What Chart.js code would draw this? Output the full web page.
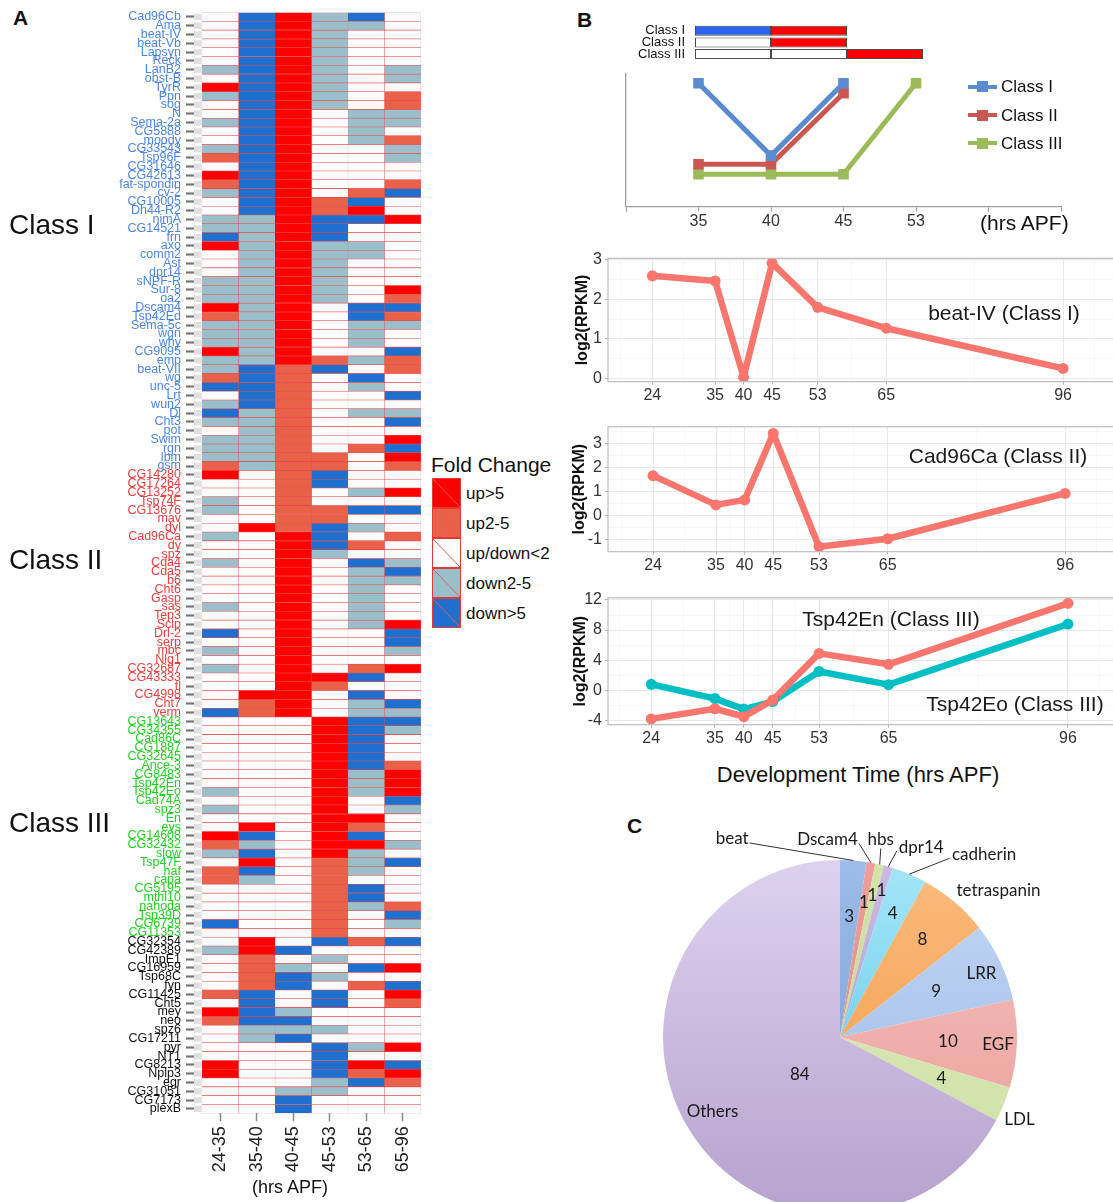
<!DOCTYPE html>
<html lang="en">
<head>
<meta charset="UTF-8">
<title>Fold change heatmap, expression profiles and gene families</title>
<script src="https://cdn.jsdelivr.net/npm/chart.js"></script>
<style>
  html, body { margin: 0; padding: 0; background: #fff; }
  body { width: 1113px; height: 1202px; overflow: hidden; position: relative;
         font-family: 'Liberation Sans', Arial, sans-serif; color: #111; }
  canvas, .txt { position: absolute; }
  .txt { white-space: nowrap; }
  .letter { font-weight: bold; font-size: 21px; line-height: 21px; }
  .classname { font-size: 28px; line-height: 28px; left: 9px; }
  .note { font-size: 21px; line-height: 21px; color: #1a1a1a; transform: translate(-50%, -50%); }
  .fold-box { position: absolute; left: 432px; width: 29px; height: 30px; box-sizing: border-box; border: 1.5px solid #E53935; }
  .fold-label { position: absolute; left: 466px; font-size: 17px; line-height: 17px; }
  .key-line { position: absolute; left: 968px; width: 29px; height: 4px; }
  .key-dot { position: absolute; left: 977px; width: 11px; height: 11px; }
  .key-text { position: absolute; left: 1001px; font-size: 17px; line-height: 17px; }
</style>
</head>
<body>
  <div class="txt letter" style="left:13px;top:7px">A</div>
  <canvas id="heat" width="430" height="1202" style="left:0;top:0"></canvas>
  <div class="txt classname" style="top:211px">Class I</div>
  <div class="txt classname" style="top:546px">Class II</div>
  <div class="txt classname" style="top:809px">Class III</div>
  <div class="txt" style="left:252px;top:1178px;font-size:18px;line-height:18px">(hrs APF)</div>
  <div class="txt" style="left:431px;top:454px;font-size:21px;line-height:21px">Fold Change</div>
  <div id="foldKey"></div>

  <div class="txt letter" style="left:577px;top:9px">B</div>
  <canvas id="scheme" width="310" height="51" style="left:620px;top:17px"></canvas>
  <canvas id="pattern" width="513" height="175" style="left:600px;top:62px"></canvas>
  <div class="txt" style="left:980px;top:212px;font-size:21px;line-height:21px">(hrs APF)</div>
  <div id="patternKey"></div>

  <canvas id="beat" width="560" height="166" style="left:565px;top:244px"></canvas>
  <canvas id="cad" width="560" height="168" style="left:565px;top:412px"></canvas>
  <canvas id="tsp" width="560" height="169" style="left:565px;top:584px"></canvas>
  <div class="txt note" style="left:1004px;top:312px">beat-IV (Class I)</div>
  <div class="txt note" style="left:998px;top:455px">Cad96Ca (Class II)</div>
  <div class="txt note" style="left:891px;top:618px">Tsp42En (Class III)</div>
  <div class="txt note" style="left:1015px;top:703px">Tsp42Eo (Class III)</div>
  <div class="txt" style="left:858px;top:775px;font-size:22px;line-height:22px;transform:translate(-50%,-50%)">Development Time (hrs APF)</div>

  <div class="txt letter" style="left:627px;top:815px">C</div>
  <canvas id="pie" width="460" height="440" style="left:610px;top:817px"></canvas>

<script>
// ---------- panel A: fold change heatmap ----------
const intervals = ['24-35', '35-40', '40-45', '45-53', '53-65', '65-96'];

const classIGenes = ['Cad96Cb', 'Ama', 'beat-IV', 'beat-Vb', 'Lapsyn', 'Reck', 'LanB2', 'obst-B', 'TyrR', 'Ppn',
  'sog', 'N', 'Sema-2a', 'CG5888', 'moody', 'CG33543', 'Tsp96F', 'CG31646', 'CG42613', 'fat-spondin',
  'cv-2', 'CG10005', 'Dh44-R2', 'nimA', 'CG14521', 'frn', 'axo', 'comm2', 'Ast', 'dpr14',
  'sNPF-R', 'Sur-8', 'oa2', 'Dscam4', 'Tsp42Ed', 'Sema-5c', 'wgn', 'why', 'CG9095', 'emp',
  'beat-VII', 'wg', 'unc-5', 'Lrt', 'wun2', 'Dl', 'Cht3', 'pot', 'Swim', 'rgn', 'lbm', 'gsm'];
const classIIGenes = ['CG14280', 'CG17264', 'CG13252', 'Tsp74F', 'CG13676', 'mav', 'dyl', 'Cad96Ca', 'dy', 'spz',
  'Cda4', 'Cda5', 'b6', 'Cht6', 'Gasp', 'sas', 'Tep3', 'Sclp', 'Drl-2', 'serp',
  'mbc', 'Nlg1', 'CG32687', 'CG43333', 'tl', 'CG4998', 'Cht7', 'verm'];
const classIIIGenes = ['CG13643', 'CG34355', 'Cad86C', 'CG1887', 'CG32645', 'Ance-3', 'CG8483', 'Tsp42En', 'Tsp42Eo', 'Cad74A',
  'spz3', 'En', 'eys', 'CG14608', 'CG32432', 'slow', 'Tsp47F', 'haf', 'capa', 'CG5195',
  'mthl10', 'nahoda', 'Tsp39D', 'CG6739', 'CG11353'];
const otherGenes = ['CG32354', 'CG42389', 'ImpE1', 'CG16959', 'Tsp68C', 'fyn', 'CG11425', 'Cht5', 'mey', 'neo',
  'spz6', 'CG17211', 'pyr', 'NT1', 'CG8213', 'Nplp3', 'egr', 'CG31051', 'CG7173', 'plexB'];

// fold change class per gene and interval: 2 up>5, 1 up2-5, 0 up/down<2, -1 down2-5, -2 down>5
const fold2435 = [0, 0, 0, 0, 0, 0, -1, 0, 2, -1,
  0, 0, -1, 0, 0, -1, 1, 0, 2, 1,
  -1, 0, 0, -1, -1, -2, 2, 0, 0, 0,
  -1, -1, -1, 2, 1, -1, -1, -1, 2, -1,
  -1, 1, -2, 0, -1, -2, -1, 0, -1, -1,
  -1, 1, 2, 0, 0, -1, -1, 0, 0, -1,
  0, 0, -1, 0, 0, 0, 0, -1, 0, 0,
  -2, 0, -1, 0, -1, 0, 0, 0, 0, -2,
  0, 0, 0, 0, 0, 0, 0, 0, -1, 0,
  -1, 0, 0, 2, 1, -1, 0, 1, 1, 0,
  0, 0, 0, -2, 0, 0, -1, 0, 0, 0,
  0, 1, 0, 2, 1, 0, 0, 0, 0, 2,
  2, 0, 0, 0, 0];
const fold3540 = [-2, -2, -2, -2, -2, -2, -2, -2, -2, -2,
  -2, -2, -2, -2, -2, -2, -2, -2, -2, -2,
  -2, -2, -2, -1, -1, -1, -1, -1, -1, -1,
  -1, -1, -1, -1, -1, -1, -1, -1, -1, -1,
  -2, -2, -2, -2, -2, -1, -1, -1, -1, -1,
  -1, -1, 0, 0, 0, 0, 0, 0, 2, 0,
  0, 0, 0, 0, 0, 0, 0, 0, 0, 0,
  0, 0, 0, 0, 0, 0, 0, 2, 1, 1,
  0, 0, 0, 0, 0, 0, 0, 0, 0, 0,
  0, 0, 2, -2, -1, -2, 2, -2, -1, 0,
  0, 0, 0, 0, 0, 2, 2, 1, 1, 1,
  1, -2, -2, -2, -2, -1, -1, 0, 0, 0,
  0, 0, 0, 0, 0];
const fold4045 = [2, 2, 2, 2, 2, 2, 2, 2, 2, 2,
  2, 2, 2, 2, 2, 2, 2, 2, 2, 2,
  2, 2, 2, 2, 2, 2, 2, 2, 2, 2,
  2, 2, 2, 2, 2, 2, 2, 2, 2, 2,
  1, 1, 1, 1, 1, 1, 1, 1, 1, 1,
  1, 1, 1, 1, 1, 1, 1, 1, 1, 2,
  2, 2, 2, 2, 2, 2, 2, 2, 2, 2,
  2, 2, 2, 2, 2, 2, 2, 2, 2, 2,
  0, 0, 0, 0, 0, 0, 0, 0, 0, 0,
  0, 0, 0, 0, 0, 0, 0, 0, 0, 0,
  0, 0, 0, 0, 0, 0, -2, 0, -1, -2,
  -2, 0, 0, -1, -2, -1, -2, 0, 0, 0,
  0, 0, -1, -2, -2];
const fold4553 = [-1, -1, -1, -1, -1, -1, -1, -1, -1, -1,
  -1, 0, 0, 0, 0, 0, 0, 0, 0, 0,
  0, 1, 1, -2, -2, -2, -1, -1, -1, -1,
  -1, -1, -1, 0, 0, 0, 0, 0, 0, 1,
  -2, 0, 0, 0, 0, 0, 0, 0, 0, 0,
  1, 1, -2, -2, 0, 0, 1, 1, -2, -2,
  -2, -1, 0, 0, 0, 0, 0, 0, 0, 0,
  0, 0, 0, 0, 0, 2, 1, 0, 0, 0,
  2, 2, 2, 2, 2, 2, 2, 2, 2, 2,
  2, 2, 2, 2, 2, 2, 1, 1, 1, 1,
  1, 1, 1, 1, 1, -2, 0, -1, 0, -1,
  0, -2, -2, 0, 0, -1, 0, -2, -2, -2,
  -2, -1, -1, 0, 0];
const fold5365 = [-2, -1, 0, 0, 0, 0, 0, 0, 0, 0,
  0, -1, -1, -1, -1, 0, 0, 0, 0, 0,
  1, -2, 2, -2, 0, 0, -1, -1, 0, 0,
  0, 0, 0, -2, -2, -1, -1, -1, 0, -1,
  0, -2, -1, 0, 0, -1, 0, 0, 0, 1,
  0, 0, 0, 0, -1, 0, -2, 0, -1, 0,
  1, 0, -2, -1, -1, -1, -1, -1, -1, -1,
  0, 0, 0, 0, 1, -2, 0, -2, -1, -1,
  -2, -2, -2, -2, -2, -2, -1, -1, -1, 0,
  0, 2, 1, -2, 2, -1, -1, -1, 0, -2,
  -2, -1, 0, 0, 0, 1, 0, 0, -2, 0,
  1, 0, 0, 0, 0, 0, 0, -1, 0, 2,
  1, -2, 0, 0, 0];
const fold6596 = [0, 0, 0, 0, 0, 0, -1, -1, 0, 1,
  1, -1, -1, 0, 1, -1, -1, 0, 0, 1,
  -2, 0, 0, 2, 0, 0, 0, 0, 0, 0,
  0, 2, 1, -2, 1, -1, 0, 0, -2, 1,
  1, 0, 0, -2, 0, -1, -2, 0, 2, -2,
  2, 1, 0, 0, 2, 0, -2, 0, 0, 1,
  0, 0, -1, -2, -1, 0, 0, 0, 0, 2,
  -2, -2, -1, 0, 2, 0, 0, 0, -2, -1,
  -2, -1, 0, 0, 0, 1, 2, 2, 2, -2,
  -1, 0, 0, 0, -1, 0, -2, 0, 0, 0,
  0, 1, -2, -1, 0, -2, 0, 0, 2, 0,
  -2, 2, 1, 0, 0, 0, 0, 2, 0, -2,
  2, 1, 0, 0, 0];

const foldLevels = ['up>5', 'up2-5', 'up/down<2', 'down2-5', 'down>5'];
const foldCodes = [2, 1, 0, -1, -2];

// ---------- panel B ----------
const classNames = ['Class I', 'Class II', 'Class III'];
const schemeSegments = [['down', 'up'], ['flat', 'up'], ['flat', 'flat', 'up']];
const classTimes = ['35', '40', '45', '53'];
const patternClassI = [9.25, 3.83, 9.25, null];
const patternClassII = [3.18, 3.18, 8.5, null];
const patternClassIII = [2.43, 2.43, 2.43, 9.25];

const timePoints = [24, 35, 40, 45, 53, 65, 96];
const beatIV = [2.6, 2.47, 0.03, 2.92, 1.8, 1.27, 0.25];
const cad96Ca = [1.68, 0.46, 0.67, 3.44, -1.28, -0.95, 0.94];
const tsp42En = [-3.8, -2.45, -3.5, -1.3, 4.9, 3.45, 11.55];
const tsp42Eo = [0.8, -1.1, -2.5, -1.5, 2.5, 0.75, 8.8];

// ---------- panel C ----------
const pieNames = ['beat', 'Dscam4', 'hbs', 'dpr14', 'cadherin', 'tetraspanin', 'LRR', 'EGF', 'LDL', 'Others'];
const pieCounts = [3, 1, 1, 1, 4, 8, 9, 10, 4, 84];

// ---------- styles ----------
Chart.defaults.font.family = "'Liberation Sans', Arial, sans-serif";
Chart.defaults.animation = false;
Chart.defaults.responsive = false;
Chart.defaults.plugins.legend.display = false;
Chart.defaults.plugins.tooltip.enabled = false;

const foldColor = { '2': '#FF0000', '1': '#EA6149', '0': '#FCFCFC', '-1': '#9BBECB', '-2': '#1F6FCF' };
const groupColors = ['#4A86E8', '#E8403E', '#22D022', '#111111'];

// heatmap
const genes = classIGenes.concat(classIIGenes, classIIIGenes, otherGenes);
const groupBounds = [classIGenes.length, classIGenes.length + classIIGenes.length,
  classIGenes.length + classIIGenes.length + classIIIGenes.length];
const groupOf = i => i < groupBounds[0] ? 0 : i < groupBounds[1] ? 1 : i < groupBounds[2] ? 2 : 3;
const foldColumns = [fold2435, fold3540, fold4045, fold4553, fold5365, fold6596];
const stripWidth = 0.22;

const heatDatasets = [{
  data: genes.map(() => [-stripWidth, -0.01]),
  backgroundColor: '#E1E1E1',
  borderWidth: 0,
  barPercentage: 0.72
}].concat(foldColumns.map((col, c) => ({
  data: col.map(() => [c, c + 1]),
  backgroundColor: col.map(v => foldColor[v]),
  borderColor: 'rgba(226,50,50,0.78)',
  borderWidth: { top: 0.6, bottom: 0.6, left: 0.35, right: 0.35 }
})));

new Chart(document.getElementById('heat'), {
  type: 'bar',
  data: { labels: genes, datasets: heatDatasets },
  options: {
    indexAxis: 'y',
    layout: { padding: { top: 12.3, bottom: 3.9, left: 0, right: 9 } },
    datasets: { bar: { grouped: false, barPercentage: 1, categoryPercentage: 1, borderSkipped: false } },
    scales: {
      y: {
        grid: { drawOnChartArea: false, offset: false, tickLength: 8, tickWidth: 2.2, tickColor: '#777' },
        border: { display: false },
        ticks: {
          autoSkip: false, padding: 5,
          font: { size: 12.5 },
          color: c => groupColors[groupOf(c.index)]
        },
        afterFit: s => { s.width = 194; }
      },
      x: {
        type: 'linear', min: -stripWidth, max: 6, bounds: 'data',
        afterBuildTicks: s => { s.ticks = intervals.map((_, i) => ({ value: i + 0.5 })); },
        ticks: {
          callback: (v, i) => intervals[i],
          minRotation: 90, maxRotation: 90, padding: 5, autoSkip: false,
          font: { size: 18 }, color: '#222'
        },
        grid: { drawOnChartArea: false, tickLength: 8, tickWidth: 1.5, tickColor: '#8a8a8a' },
        border: { display: false },
        afterFit: s => { s.height = 84.8; }
      }
    }
  }
});

// fold change key
const foldKey = document.getElementById('foldKey');
foldLevels.forEach((label, k) => {
  const col = foldColor[foldCodes[k]];
  const box = document.createElement('div');
  box.className = 'fold-box';
  box.style.top = (478 + k * 30) + 'px';
  box.style.background = 'linear-gradient(to top right, ' + col + ' calc(50% - 0.7px), rgba(226,60,60,0.85) 50%, ' + col + ' calc(50% + 0.7px))';
  foldKey.appendChild(box);
  const t = document.createElement('div');
  t.className = 'fold-label';
  t.style.top = (478 + k * 30 + 7) + 'px';
  t.textContent = label;
  foldKey.appendChild(t);
});

// class scheme bars
const segColor = { down: '#2B62F2', up: '#FF0000', flat: '#FFFFFF' };
new Chart(document.getElementById('scheme'), {
  type: 'bar',
  data: {
    labels: classNames,
    datasets: [0, 1, 2].map(k => ({
      data: schemeSegments.map(s => s[k] ? [k, k + 1] : null),
      backgroundColor: schemeSegments.map(s => s[k] ? segColor[s[k]] : 'transparent'),
      borderColor: '#4a4a4a',
      borderWidth: 1
    }))
  },
  options: {
    indexAxis: 'y',
    layout: { padding: { top: 7.9, bottom: 8.1, left: 0, right: 7 } },
    datasets: { bar: { grouped: false, barPercentage: 1, categoryPercentage: 0.857, borderSkipped: false } },
    scales: {
      x: { type: 'linear', min: 0, max: 3, display: false },
      y: {
        grid: { display: true, drawOnChartArea: false, offset: false, tickLength: 10, tickColor: 'rgba(0,0,0,0)' },
        border: { display: false },
        ticks: { autoSkip: false, padding: 0, font: { size: 13 }, color: '#111' },
        afterFit: s => { s.width = 75; }
      }
    }
  }
});

// class expression pattern
const classColors = ['#5A8BD0', '#CC5652', '#9BBB59'];
const patternSeries = [patternClassI, patternClassII, patternClassIII];
new Chart(document.getElementById('pattern'), {
  type: 'line',
  data: {
    datasets: patternSeries.map((vals, k) => ({
      label: classNames[k],
      data: vals.map((v, i) => ({ x: i + 1, y: v })),
      borderColor: classColors[k], backgroundColor: classColors[k],
      borderWidth: 5, pointStyle: 'rect', pointRadius: 7.5, pointBorderWidth: 0,
      tension: 0, spanGaps: false, borderJoinStyle: 'round'
    }))
  },
  options: {
    layout: { padding: { top: 11.3, left: 25, right: 52, bottom: 4 } },
    scales: {
      x: {
        type: 'linear', min: 0, max: 6, bounds: 'data',
        ticks: { stepSize: 1, autoSkip: false, maxRotation: 0, padding: 0,
          callback: v => classTimes[v - 1] || '', font: { size: 16 }, color: '#333' },
        grid: { drawOnChartArea: false, tickLength: 5, tickColor: '#A0A0A0', tickWidth: 1.2 },
        border: { color: '#A0A0A0', width: 1.3 },
        afterFit: s => { s.height = 26.3; }
      },
      y: {
        min: 0, max: 10,
        ticks: { display: false }, grid: { display: false },
        border: { color: '#A0A0A0', width: 1.3 },
        afterFit: s => { s.width = 1; }
      }
    }
  }
});

const patternKey = document.getElementById('patternKey');
classNames.forEach((name, k) => {
  const cy = 86.7 + k * 28.3;
  const line = document.createElement('div');
  line.className = 'key-line'; line.style.top = (cy - 2) + 'px'; line.style.background = classColors[k];
  const dot = document.createElement('div');
  dot.className = 'key-dot'; dot.style.top = (cy - 5.5) + 'px'; dot.style.background = classColors[k];
  const t = document.createElement('div');
  t.className = 'key-text'; t.style.top = (cy - 8.5) + 'px'; t.textContent = name;
  patternKey.append(line, dot, t);
});

// ggplot-like expression charts
const panelBorder = {
  id: 'panelBorder',
  afterDraw(chart) {
    const { ctx, chartArea: a } = chart;
    ctx.save();
    ctx.strokeStyle = '#BDBDBD';
    ctx.lineWidth = 1.2;
    ctx.strokeRect(a.left, a.top, a.right - a.left, a.bottom - a.top);
    ctx.restore();
  }
};

const xMinorBreaks = [18.5, 29.5, 37.5, 42.5, 49, 59, 80.5, 101.5];

function expressionChart(id, series, colors, yr, titlePad, padTop, xHeight) {
  const majorX = timePoints.map(v => ({ value: v, isMajor: true }));
  const gridColor = c => (c.tick && c.tick.isMajor) ? '#E8E8E8' : '#F4F4F4';
  const gridWidth = c => (c.tick && c.tick.isMajor) ? 1 : 0.7;
  const tickColor = c => (c.tick && c.tick.isMajor) ? '#B3B3B3' : 'rgba(0,0,0,0)';
  return new Chart(document.getElementById(id), {
    type: 'line',
    data: {
      datasets: series.map((vals, k) => ({
        data: timePoints.map((t, i) => ({ x: t, y: vals[i] })),
        borderColor: colors[k], backgroundColor: colors[k],
        borderWidth: 6.5, pointRadius: 5.5, pointBorderWidth: 0,
        tension: 0, borderJoinStyle: 'round', borderCapStyle: 'round'
      }))
    },
    options: {
      layout: { padding: { top: padTop, left: 0, right: 0, bottom: 0 } },
      scales: {
        x: {
          type: 'linear', min: yr.xMin, max: yr.xMax, bounds: 'data',
          afterBuildTicks: s => {
            s.ticks = majorX.concat(xMinorBreaks.filter(v => v > yr.xMin && v < yr.xMax).map(v => ({ value: v })));
          },
          ticks: { autoSkip: false, maxRotation: 0, padding: 1,
            callback: (v, i, t) => t[i].isMajor ? String(v) : '',
            font: { size: 16 }, color: '#333' },
          grid: { color: gridColor, lineWidth: gridWidth, tickLength: 3, tickColor: tickColor },
          border: { display: false },
          afterFit: s => { s.height = xHeight; }
        },
        y: {
          min: yr.min, max: yr.max, bounds: 'data',
          afterBuildTicks: s => {
            s.ticks = yr.major.map(v => ({ value: v, isMajor: true })).concat(yr.minor.map(v => ({ value: v })));
          },
          ticks: { autoSkip: false, padding: 3,
            callback: (v, i, t) => t[i].isMajor ? String(v) : '',
            font: { size: 16 }, color: '#333' },
          grid: { color: gridColor, lineWidth: gridWidth, tickLength: 3, tickColor: tickColor },
          border: { display: false },
          title: { display: true, text: 'log2(RPKM)', color: '#111',
            font: { size: 16, weight: 'bold' }, padding: { top: titlePad, bottom: 0 } },
          afterFit: s => { s.width = 43; }
        }
      }
    },
    plugins: [panelBorder]
  });
}

const ggRed = '#F8766D', ggTeal = '#00BFC4';
expressionChart('beat', [beatIV], [ggRed],
  { min: -0.086, max: 3.043, major: [0, 1, 2, 3], minor: [0.5, 1.5, 2.5], xMin: 16.23, xMax: 105.9 },
  8.4, 14.3, 28.3);
expressionChart('cad', [cad96Ca], [ggRed],
  { min: -1.49, max: 3.72, major: [-1, 0, 1, 2, 3], minor: [-0.5, 0.5, 1.5, 2.5, 3.5], xMin: 16.13, xMax: 105.5 },
  4.8, 14.7, 28.3);
expressionChart('tsp', [tsp42En, tsp42Eo], [ggRed, ggTeal],
  { min: -4.57, max: 12.3, major: [-4, 0, 4, 8, 12], minor: [-2, 2, 6, 10], xMin: 16.53, xMax: 104.9 },
  6.4, 13.7, 28.3);

// pie of gene families
const pieTop = ['#9DBDE8', '#EE9E9A', '#D3E4A9', '#C9B9E2', '#A6E6F8', '#FBBB7E', '#C3D8F6', '#F6C4BF', '#E2EFC2', '#DED1EE'];
const pieBottom = ['#6E97D2', '#E0847F', '#BBD38A', '#AC98CC', '#4BC1E6', '#F2963F', '#98B4E2', '#E89A96', '#CADDA0', '#B6A2CE'];
const valueRadius = [0.68, 0.77, 0.82, 0.86, 0.76, 0.72, 0.6, 0.61, 0.62, 0.31];
const valueShift = [0, 0, 0, 0, 0, 0, 0, 0, 0, -12];
const nameRadius = [1.274, 1.12, 1.14, 1.167, 1.315, 1.22, 0.877, 0.894, 1.115, 0.836];
const nameShift = [-32.9, -13.7, -1.3, 7.3, 15.2, 6.9, 0.9, 0.7, 2.3, 0.5];
const leaderFrom = ['right', 'right', 'below', 'left', 'left', null, null, null, null, null];
const pieRadius = 177;

const pieLabels = {
  id: 'pieLabels',
  afterDatasetsDraw(chart) {
    const ctx = chart.ctx;
    const meta = chart.getDatasetMeta(0);
    const rad = Math.PI / 180;
    ctx.save();
    ctx.font = "17px Lato, 'Liberation Sans', sans-serif";
    ctx.fillStyle = '#1a1a1a';
    ctx.textAlign = 'center';
    ctx.textBaseline = 'middle';
    meta.data.forEach((arc, i) => {
      const p = arc.getProps(['x', 'y', 'startAngle', 'endAngle', 'outerRadius'], true);
      const mid = (p.startAngle + p.endAngle) / 2;
      const va = mid + valueShift[i] * rad, vr = p.outerRadius * valueRadius[i];
      ctx.fillText(String(pieCounts[i]), p.x + Math.cos(va) * vr, p.y + Math.sin(va) * vr);
      const na = mid + nameShift[i] * rad, nr = p.outerRadius * nameRadius[i];
      const tx = p.x + Math.cos(na) * nr, ty = p.y + Math.sin(na) * nr;
      ctx.fillText(pieNames[i], tx, ty);
      if (leaderFrom[i]) {
        const w = ctx.measureText(pieNames[i]).width;
        let sx = tx, sy = ty + 9;
        if (leaderFrom[i] === 'right') { sx = tx + w / 2 + 1; sy = ty + 4; }
        if (leaderFrom[i] === 'left') { sx = tx - w / 2 - 2; sy = ty + 4; }
        ctx.beginPath();
        ctx.moveTo(sx, sy);
        ctx.lineTo(p.x + Math.cos(mid) * p.outerRadius, p.y + Math.sin(mid) * p.outerRadius);
        ctx.strokeStyle = '#333';
        ctx.lineWidth = 1;
        ctx.stroke();
      }
    });
    ctx.restore();
  }
};

new Chart(document.getElementById('pie'), {
  type: 'pie',
  data: {
    labels: pieNames,
    datasets: [{
      data: pieCounts,
      borderWidth: 0,
      backgroundColor: c => {
        const area = c.chart.chartArea;
        if (!area) return pieTop[c.dataIndex];
        const cy = (area.top + area.bottom) / 2;
        const g = c.chart.ctx.createLinearGradient(0, cy - pieRadius, 0, cy + pieRadius);
        g.addColorStop(0, pieTop[c.dataIndex]);
        g.addColorStop(1, pieBottom[c.dataIndex]);
        return g;
      }
    }]
  },
  options: { radius: pieRadius, layout: { padding: 0 } },
  plugins: [pieLabels]
});
</script>
</body>
</html>
